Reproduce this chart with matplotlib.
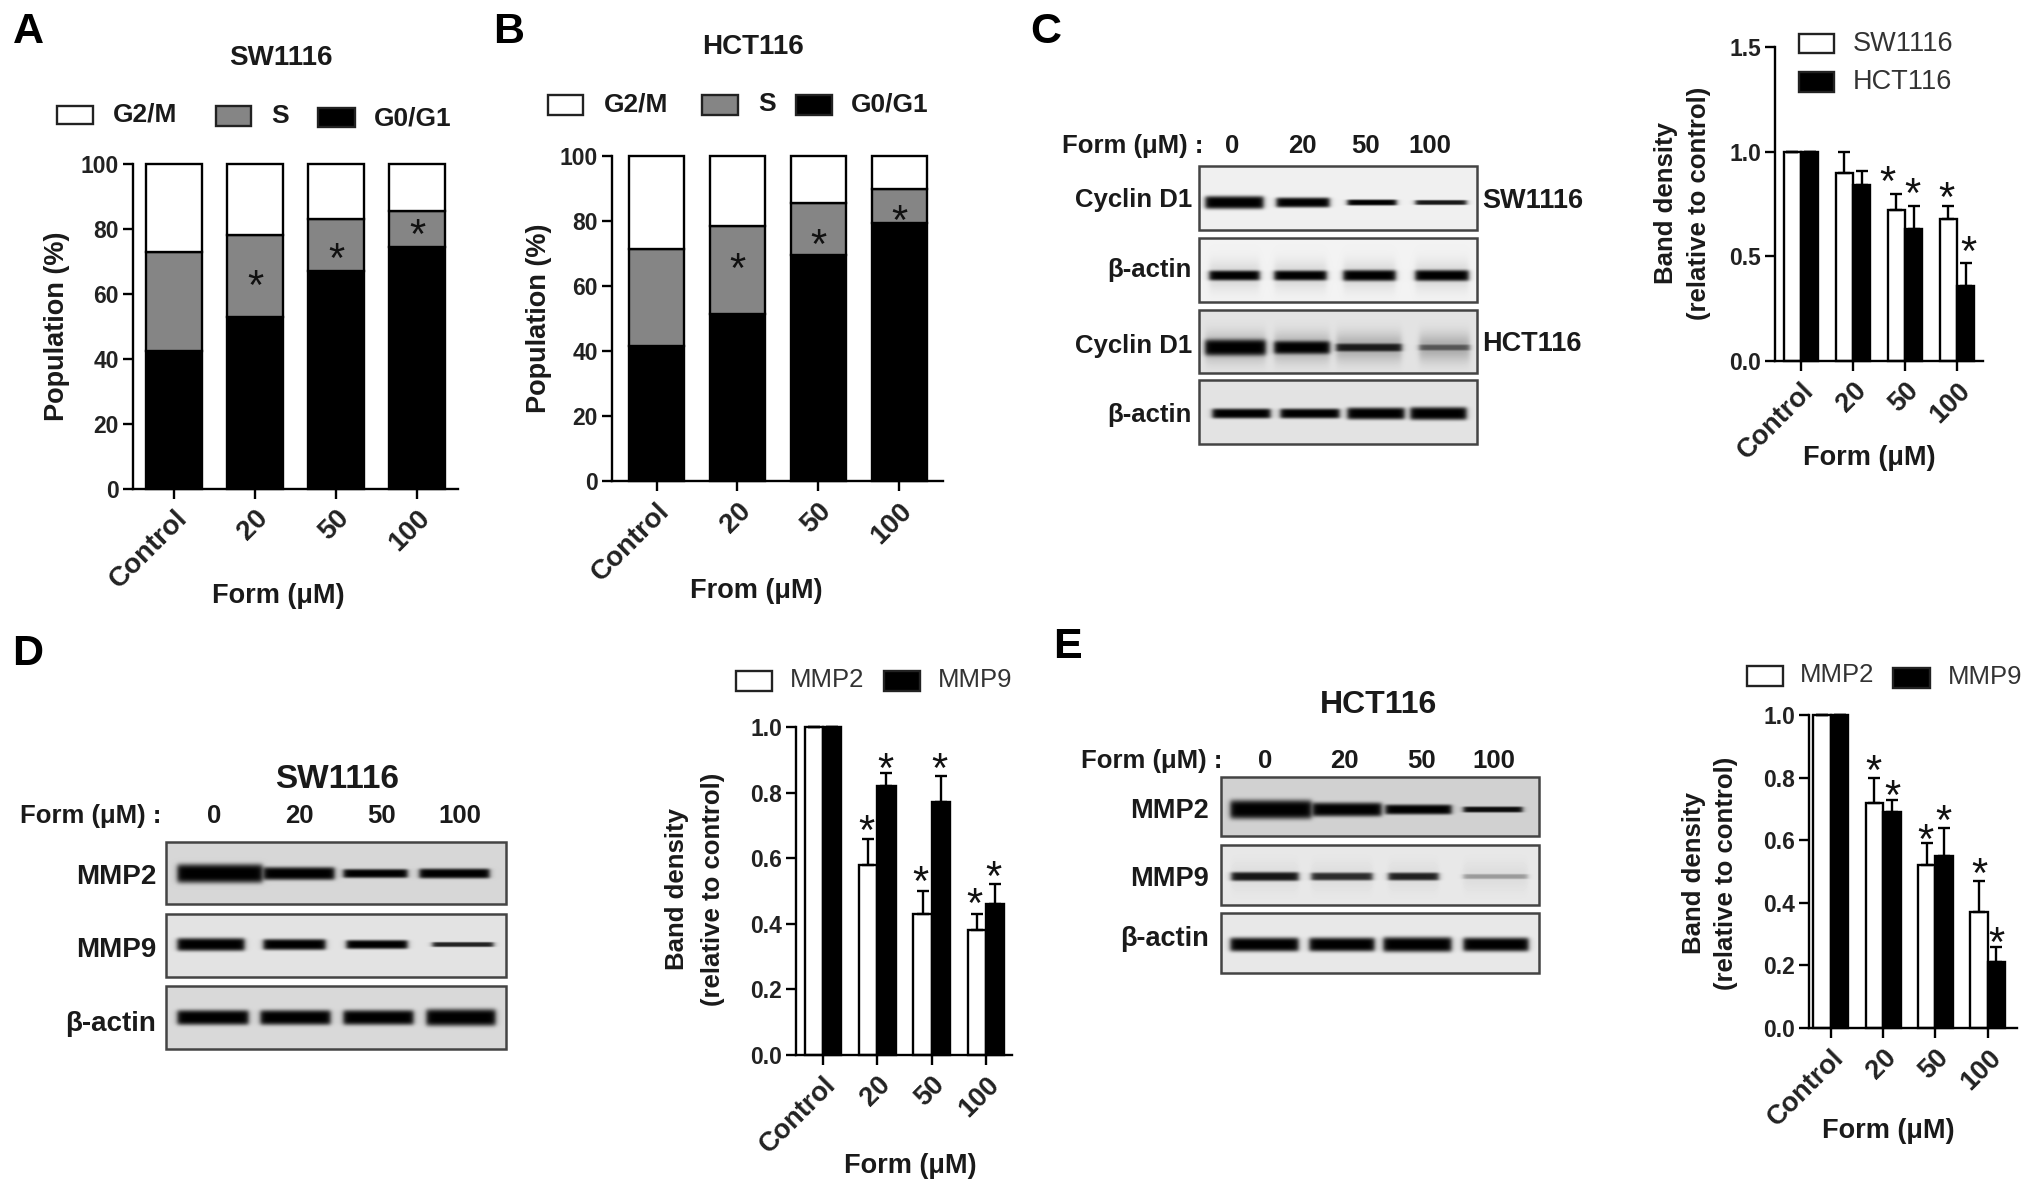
import numpy as np
import matplotlib
matplotlib.use('Agg')
import matplotlib.pyplot as plt
from matplotlib.patches import Rectangle

W, H = 2031, 1194
plt.rcParams['font.family'] = ['Liberation Sans', 'DejaVu Sans']

doses = ['Control', '20', '50', '100']

# panels A, B: stacked population
a_g0 = [42.5, 53, 67, 74.5]
a_s = [30.5, 25, 16, 11]
a_g2 = [27, 22, 17, 14.5]
a_stars = [None, 65.3, 73.6, 81]
b_g0 = [41.5, 51.5, 69.5, 79.5]
b_s = [30, 27, 16, 10.5]
b_g2 = [28.5, 21.5, 14.5, 10]
b_stars = [None, 68, 75.6, 83]

# panels C, D, E: band density
c_sw = [1.0, 0.90, 0.72, 0.68]
c_sw_err = [0, 0.10, 0.08, 0.06]
c_hct = [1.0, 0.84, 0.63, 0.36]
c_hct_err = [0, 0.07, 0.11, 0.11]
c_stars = [(1.66, 0.90), (2.14, 0.84), (2.79, 0.825), (3.22, 0.565)]

d_mmp2 = [1.0, 0.58, 0.43, 0.38]
d_mmp2_err = [0, 0.08, 0.07, 0.05]
d_mmp9 = [1.0, 0.82, 0.77, 0.46]
d_mmp9_err = [0, 0.04, 0.08, 0.06]
d_stars = [(0.8, 0.71), (1.15, 0.90), (1.79, 0.555), (2.15, 0.90), (2.79, 0.49), (3.14, 0.57)]

e_mmp2 = [1.0, 0.72, 0.52, 0.37]
e_mmp2_err = [0, 0.08, 0.07, 0.10]
e_mmp9 = [1.0, 0.69, 0.55, 0.21]
e_mmp9_err = [0, 0.04, 0.09, 0.05]
e_stars = [(0.82, 0.85), (1.18, 0.77), (1.81, 0.63), (2.15, 0.69), (2.85, 0.52), (3.16, 0.30)]

# blots: x0, x1, thickness, strength for each lane
c_cyclin_sw = [(1205, 1263, 12, 1), (1276, 1329, 9, 1), (1347, 1396, 5, 1), (1415, 1466, 4, 0.9)]
c_actin_sw = [(1209, 1259, 9, 1), (1274, 1326, 9, 1), (1343, 1395, 10, 1), (1415, 1468, 10, 1)]
c_cyclin_hct = [(1205, 1265, 15, 1), (1274, 1329, 12, 1), (1336, 1401, 7, 0.85), (1419, 1469, 5, 0.5)]
c_actin_hct = [(1212, 1270, 9, 1), (1280, 1339, 9, 1), (1347, 1404, 11, 1), (1410, 1466, 12, 1)]
d_blot2 = [(177, 262, 18, 1), (263, 334, 12, 1), (343, 407, 8, 1), (419, 489, 9, 1)]
d_blot9 = [(177, 244, 12, 1), (263, 325, 10, 1), (346, 407, 8, 1), (432, 493, 4, 0.85)]
d_actin = [(177, 248, 14, 1), (260, 330, 14, 1), (343, 413, 14, 1), (426, 495, 16, 1)]
e_blot2 = [(1230, 1311, 18, 1), (1312, 1381, 13, 1), (1385, 1451, 9, 1), (1463, 1522, 5, 0.95)]
e_blot9 = [(1231, 1298, 8, 0.9), (1311, 1372, 7, 0.8), (1388, 1438, 7, 0.85), (1463, 1527, 4, 0.3)]
e_actin = [(1230, 1298, 13, 1), (1309, 1374, 13, 1), (1383, 1451, 14, 1), (1463, 1528, 13, 1)]

fig = plt.figure(figsize=(W / 100, H / 100), dpi=100, facecolor='white')

# full page axes in pixel coordinates, holds text, legends and blots
page = fig.add_axes([0, 0, 1, 1], zorder=0)
page.axis('off')


def chart(left, top, right, bottom, xlim, ylim, yticks, fmt, xsize=20):
    ax = fig.add_axes([left / W, 1 - bottom / H, (right - left) / W, (bottom - top) / H], zorder=2)
    ax.patch.set_alpha(0)
    for s in ['top', 'right']:
        ax.spines[s].set_visible(False)
    for s in ['left', 'bottom']:
        ax.spines[s].set_linewidth(1.7)
    ax.set_xlim(xlim)
    ax.set_ylim(ylim)
    ax.set_yticks(yticks)
    ax.set_yticklabels([fmt % t for t in yticks], fontsize=16.5, fontweight='bold', color='#222222')
    ax.set_xticks(range(4))
    ax.set_xticklabels(doses, fontsize=xsize, fontweight='bold', rotation=45, ha='right', va='top',
                       rotation_mode='anchor', color='#222222')
    ax.tick_params(axis='both', width=1.7, length=7, pad=3)
    ax.tick_params(axis='x', pad=5)
    return ax


def star(ax, x, y):
    ax.annotate('*', xy=(x, y), xytext=(0, -16), textcoords='offset points', ha='center',
                va='baseline', fontsize=30, color='#111111', annotation_clip=False)


def stacked(ax, g0, s, g2, stars):
    x = np.arange(4)
    g0, s, g2 = np.array(g0), np.array(s), np.array(g2)
    kw = dict(width=0.68, edgecolor='black', linewidth=1.7, clip_on=False)
    ax.bar(x, g0, color='black', **kw)
    ax.bar(x, s, bottom=g0, color='#858585', **kw)
    ax.bar(x, g2, bottom=g0 + s, color='white', **kw)
    for i, y in enumerate(stars):
        if y is not None:
            star(ax, i, y)


def paired(ax, v1, e1, v2, e2, stars, width=0.335):
    x = np.arange(4)
    for off, v, e, col in [(-width / 2, v1, e1, 'white'), (width / 2, v2, e2, 'black')]:
        ax.bar(x + off, v, width, color=col, edgecolor='black', linewidth=1.7, clip_on=False)
        ax.errorbar(x + off, v, yerr=[np.zeros(4), e], fmt='none', ecolor='black',
                    elinewidth=1.7, capsize=4, capthick=1.7, clip_on=False)
    for sx, sy in stars:
        star(ax, sx, sy)


def box(x0, y0, x1, y1, col):
    page.add_patch(Rectangle((x0, y0), x1 - x0, y1 - y0, facecolor=col, edgecolor='#222222', linewidth=1.7))


def label(x, y, s, size=19, weight='bold', ha='center', rot=0, col='#1a1a1a'):
    page.text(x, y, s, fontsize=size, fontweight=weight, ha=ha, va='center', rotation=rot,
              rotation_mode='anchor', color=col)


def blot(x0, y0, x1, y1, bg, yc, lanes, halo=0.0):
    ys, xs = np.mgrid[y0:y1, x0:x1]
    img = np.full(xs.shape, bg, dtype=float)
    for a, b, th, st in lanes:
        mx = 1 / (1 + np.exp((a - xs) / 1.5)) * 1 / (1 + np.exp((xs - b) / 1.5))
        my = np.exp(-np.abs((ys - yc) / (th / 2.0 + 0.5)) ** 4)
        img = img * (1 - st * mx * my)
        if halo:
            img = img * (1 - halo * mx * np.exp(-((ys - yc) / 14.0) ** 2))
    page.imshow(img, cmap='gray', vmin=0, vmax=1, extent=(x0, x1, y1, y0), aspect='auto', zorder=1,
                interpolation='bilinear')
    page.add_patch(Rectangle((x0, y0), x1 - x0, y1 - y0, facecolor='none', edgecolor='#444444',
                             linewidth=1.8, zorder=2))


# panel A
ax_a = chart(133, 164, 458, 488.5, (-0.506, 3.506), (0, 100), [0, 20, 40, 60, 80, 100], '%d')
stacked(ax_a, a_g0, a_s, a_g2, a_stars)
# panel B
ax_b = chart(612, 156, 943, 481.5, (-0.55, 3.54), (0, 100), [0, 20, 40, 60, 80, 100], '%d')
stacked(ax_b, b_g0, b_s, b_g2, b_stars)
# panel C
ax_c = chart(1775, 47, 1983, 361, (-0.5, 3.5), (0, 1.5), [0, 0.5, 1.0, 1.5], '%.1f', xsize=19.5)
paired(ax_c, c_sw, c_sw_err, c_hct, c_hct_err, c_stars)
# panel D
ax_d = chart(796, 727, 1012, 1055, (-0.5, 3.48), (0, 1.0), [0, 0.2, 0.4, 0.6, 0.8, 1.0], '%.1f', xsize=19.5)
paired(ax_d, d_mmp2, d_mmp2_err, d_mmp9, d_mmp9_err, d_stars)
# panel E
ax_e = chart(1809, 715, 2017, 1028, (-0.42, 3.56), (0, 1.0), [0, 0.2, 0.4, 0.6, 0.8, 1.0], '%.1f', xsize=19.5)
paired(ax_e, e_mmp2, e_mmp2_err, e_mmp9, e_mmp9_err, e_stars)

# blots C
blot(1199, 166, 1477, 230, 0.94, 202, c_cyclin_sw)
blot(1199, 238, 1477, 302, 0.95, 275, c_actin_sw, halo=0.12)
blot(1199, 310, 1477, 373, 0.89, 347, c_cyclin_hct, halo=0.25)
blot(1199, 380, 1477, 444, 0.89, 413, c_actin_hct)
# blots D
blot(166, 842, 506, 904, 0.84, 873, d_blot2)
blot(166, 914, 506, 977, 0.89, 944, d_blot9)
blot(166, 986, 506, 1049, 0.85, 1017, d_actin)
# blots E
blot(1221, 777, 1539, 836, 0.82, 809, e_blot2)
blot(1221, 845, 1539, 905, 0.91, 876, e_blot9, halo=0.05)
blot(1221, 913, 1539, 973, 0.91, 944, e_actin)

page.set_xlim(0, W)
page.set_ylim(H, 0)

# panel letters
for x, y, s in [(28, 32, 'A'), (509, 32, 'B'), (1046, 32, 'C'), (28, 654, 'D'), (1067, 647, 'E')]:
    label(x, y, s, size=31, col='black')

# legends A, B
label(281, 58, 'SW1116', size=20)
label(753, 47, 'HCT116', size=20)
box(57, 106, 93, 124, 'white')
box(216, 106, 251, 126, '#858585')
box(318, 108, 355, 127, 'black')
label(113, 114, 'G2/M', ha='left')
label(271, 116, 'S', ha='left')
label(374, 118, 'G0/G1', ha='left')
box(548, 95, 583, 115, 'white')
box(702, 95, 738, 115, '#858585')
box(796, 95, 832, 115, 'black')
label(604, 105, 'G2/M', ha='left')
label(758, 104, 'S', ha='left')
label(851, 105, 'G0/G1', ha='left')

# legends C, D, E
box(1799, 34, 1834, 53, 'white')
box(1799, 72, 1834, 92, 'black')
label(1853, 44, 'SW1116', ha='left', weight='normal', size=19.5, col='#333333')
label(1853, 82, 'HCT116', ha='left', weight='normal', size=19.5, col='#333333')
box(736, 671, 772, 691, 'white')
box(884, 671, 920, 691, 'black')
label(790, 680, 'MMP2', ha='left', weight='normal', size=18.5, col='#333333')
label(938, 680, 'MMP9', ha='left', weight='normal', size=18.5, col='#333333')
box(1747, 666, 1783, 686, 'white')
box(1893, 668, 1930, 688, 'black')
label(1800, 675, 'MMP2', ha='left', weight='normal', size=18.5, col='#333333')
label(1948, 677, 'MMP9', ha='left', weight='normal', size=18.5, col='#333333')

# axis labels
label(57, 326, 'Population (%)', size=19.5, rot=90)
label(539, 318, 'Population (%)', size=19.5, rot=90)
label(278, 596, 'Form (\u03bcM)', size=19.5)
label(756, 591, 'From (\u03bcM)', size=19.5)
label(1666, 203, 'Band density', size=18.5, rot=90)
label(1699, 203, '(relative to control)', size=18.5, rot=90)
label(1869, 458, 'Form (\u03bcM)', size=19.5)
label(677, 889, 'Band density', size=18.5, rot=90)
label(713, 889, '(relative to control)', size=18.5, rot=90)
label(910, 1166, 'Form (\u03bcM)', size=19.5)
label(1694, 873, 'Band density', size=18.5, rot=90)
label(1726, 873, '(relative to control)', size=18.5, rot=90)
label(1888, 1131, 'Form (\u03bcM)', size=19.5)

# blot text C
label(1062, 146, 'Form (\u03bcM) :', ha='left', size=18.5)
for x, s in zip([1232, 1302, 1366, 1430], ['0', '20', '50', '100']):
    label(x, 146, s, size=18.5)
for y, s in [(200, 'Cyclin D1'), (270, '\u03b2-actin'), (346, 'Cyclin D1'), (415, '\u03b2-actin')]:
    label(1192, y, s, ha='right', size=18.5)
label(1482, 201, 'SW1116', ha='left', size=19.5)
label(1482, 344, 'HCT116', ha='left', size=19.5)

# blot text D
label(337, 780, 'SW1116', size=24)
label(20, 816, 'Form (\u03bcM) :', ha='left', size=18.5)
for x, s in zip([214, 299, 382, 460], ['0', '20', '50', '100']):
    label(x, 816, s, size=18.5)
for y, s in [(877, 'MMP2'), (950, 'MMP9'), (1024, '\u03b2-actin')]:
    label(156, y, s, ha='right', size=20)

# blot text E
label(1379, 705, 'HCT116', size=23)
label(1081, 761, 'Form (\u03bcM) :', ha='left', size=18.5)
for x, s in zip([1265, 1344, 1422, 1494], ['0', '20', '50', '100']):
    label(x, 761, s, size=18.5)
for y, s in [(811, 'MMP2'), (879, 'MMP9'), (939, '\u03b2-actin')]:
    label(1209, y, s, ha='right', size=19.5)

fig.savefig('out.png', dpi=100)
